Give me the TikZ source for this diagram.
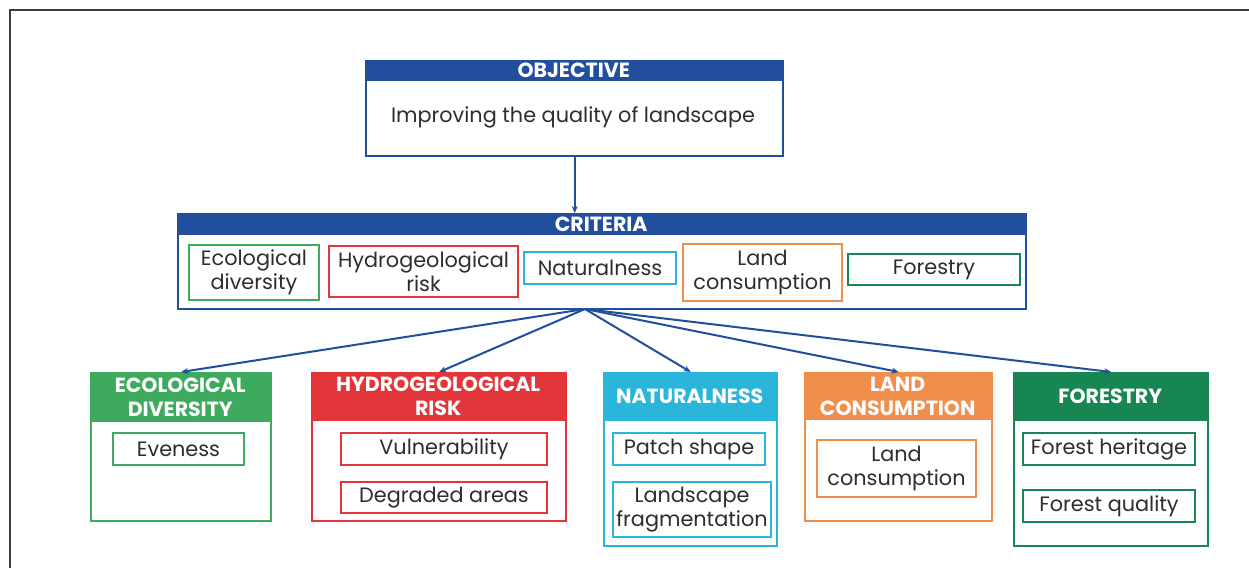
\documentclass[tikz,border=0pt]{standalone}
\usepackage{fontspec}
\setmainfont{Poppins}
\usetikzlibrary{arrows.meta}
\definecolor{navy}{RGB}{33,79,157}
\definecolor{ecog}{RGB}{61,170,94}
\definecolor{hydr}{RGB}{227,54,58}
\definecolor{natc}{RGB}{41,182,218}
\definecolor{lando}{RGB}{240,142,76}
\definecolor{forg}{RGB}{24,134,82}
\definecolor{txt}{RGB}{45,45,45}
\definecolor{framec}{RGB}{60,60,60}
\newcommand\panel[8]{%
  \node[hdr=#7, minimum width={(#4-#2)*1pt}, minimum height={(#6-#3)*1pt}] (#1-h) at (#2,#3) {#8};
  \node[frm=#7, minimum width={(#4-#2)*1pt}, minimum height={(#5-#3)*1pt}] (#1) at (#2,#3) {};
}
\newcommand\itembox[7]{% name, cx, cy, w, h, color, text
  \node[item=#6, minimum width=#4pt, minimum height=#5pt] (#1) at (#2,#3) {#7};
}
\begin{document}
\begin{tikzpicture}[x=1pt,y=-1pt,
  frm/.style={draw=#1, line width=2.4pt, inner sep=0pt, anchor=north west},
  hdr/.style={fill=#1, text=white, inner sep=0pt, anchor=north west, font=\bfseries\fontsize{20.5}{24}\selectfont, align=center},
  item/.style={draw=#1, line width=2pt, inner sep=0pt, font=\fontsize{20.8}{24.5}\selectfont, text=txt, align=center},
  link/.style={draw=navy, line width=2pt, -{Stealth[length=7pt,width=6pt]}}]
\useasboundingbox (0,0) rectangle (1249,568);
\draw[framec, line width=1.5pt] (10,568) -- (10,10) -- (1249,10);

% objective
\panel{obj}{365}{60}{782}{155}{81}{navy}{OBJECTIVE}
\node[text=txt, font=\fontsize{20.8}{24.5}\selectfont] (objtxt) at (573,117) {Improving the quality of landscape};

% criteria
\panel{crit}{177}{213}{1025}{308}{235}{navy}{CRITERIA}
\itembox{c1}{254}{272.5}{130}{55}{ecog}{Ecological\\diversity}
\itembox{c2}{423.5}{271.5}{189}{51}{hydr}{Hydrogeological\\risk}
\itembox{c3}{600}{268}{152}{32}{natc}{Naturalness}
\itembox{c4}{762.5}{272.5}{159}{57}{lando}{Land\\consumption}
\itembox{c5}{934}{269.5}{172}{31}{forg}{Forestry}

% bottom panels
\panel{p1}{90}{372}{270}{520}{422}{ecog}{ECOLOGICAL\\DIVERSITY}
\panel{p2}{311}{372}{565}{520}{421}{hydr}{HYDROGEOLOGICAL\\RISK}
\panel{p3}{603}{372}{776}{545}{421}{natc}{NATURALNESS}
\panel{p4}{804}{372}{991}{520}{420}{lando}{LAND\\CONSUMPTION}
\panel{p5}{1013}{372}{1207}{545}{421}{forg}{FORESTRY}

\itembox{i1}{178.5}{449}{131}{32}{ecog}{Eveness}
\itembox{i2}{444}{449}{206}{32}{hydr}{Vulnerability}
\itembox{i3}{444}{497.5}{206}{31}{hydr}{Degraded areas}
\itembox{i4}{689}{449}{152}{32}{natc}{Patch shape}
\itembox{i5}{692}{509.5}{158}{55}{natc}{Landscape\\fragmentation}
\itembox{i6}{896.5}{468.5}{159}{57}{lando}{Land\\consumption}
\itembox{i7}{1109}{449}{172}{32}{forg}{Forest heritage}
\itembox{i8}{1109}{506}{172}{32}{forg}{Forest quality}

% connectors
\draw[link] (obj.south) -- (obj.south |- crit.north);
\coordinate (hub) at (585,309);
\draw[link] (hub) -- (p1.north);
\draw[link] (hub) -- (p2.north);
\draw[link] (hub) -- (p3.north);
\draw[link] (hub) -- (p4.north);
\draw[link] (hub) -- (p5.north);
\end{tikzpicture}
\end{document}
